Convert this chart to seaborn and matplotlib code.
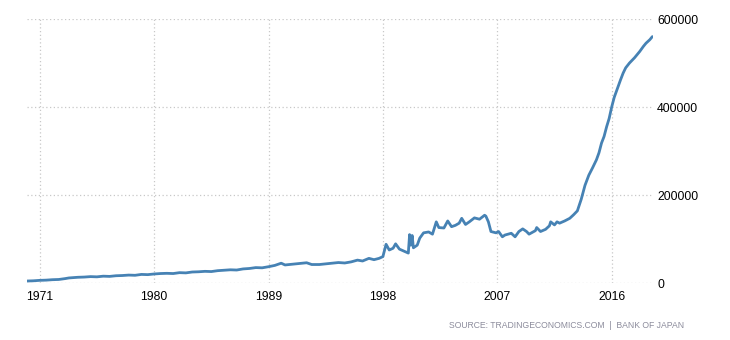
import matplotlib
matplotlib.use("Agg")
import matplotlib.pyplot as plt
import seaborn as sns
import pandas as pd

years = [1970.0, 1970.5, 1971.0, 1971.5, 1972.0, 1972.5, 1973.0, 1973.3, 1973.5, 1974.0,
         1974.5, 1975.0, 1975.5, 1976.0, 1976.5, 1977.0, 1977.5, 1978.0, 1978.5, 1979.0,
         1979.5, 1980.0, 1980.5, 1981.0, 1981.5, 1982.0, 1982.5, 1983.0, 1983.5, 1984.0,
         1984.5, 1985.0, 1985.5, 1986.0, 1986.5, 1987.0, 1987.5, 1988.0, 1988.5,
         1989.0, 1989.5, 1990.0, 1990.3, 1991.0, 1991.4, 1992.0, 1992.4, 1993.0, 1993.5,
         1994.0, 1994.5, 1995.0, 1995.5, 1996.0, 1996.4, 1996.9, 1997.3, 1997.7, 1998.0,
         1998.1, 1998.25, 1998.5, 1998.8, 1999.0, 1999.3, 1999.7, 2000.0, 2000.1, 2000.2,
         2000.3, 2000.4, 2000.7, 2000.9, 2001.2, 2001.6, 2001.9, 2002.2, 2002.4, 2002.8,
         2003.1, 2003.4, 2003.7, 2004.0, 2004.2, 2004.5, 2004.8, 2005.2, 2005.6, 2006.0,
         2006.1, 2006.3, 2006.5, 2006.9, 2007.1, 2007.4, 2007.6, 2008.1, 2008.4, 2008.7,
         2009.0, 2009.3, 2009.5, 2010.0, 2010.1, 2010.4, 2010.8, 2011.1, 2011.2, 2011.5,
         2011.7, 2011.9, 2012.3, 2012.7, 2013.0, 2013.3, 2013.6, 2013.9, 2014.2, 2014.5,
         2014.8, 2015.0, 2015.2, 2015.4, 2015.6, 2015.8, 2016.0, 2016.2, 2016.5, 2016.7,
         2016.9, 2017.1, 2017.4, 2017.8, 2018.2, 2018.5, 2018.7, 2019.0, 2019.2]
values = [4500, 5000, 6000, 6500, 7500, 8000, 10000, 11500, 12000, 13000,
          13500, 14500, 14000, 15500, 15000, 16500, 17000, 18000, 17500, 19500,
          19000, 20500, 21500, 22000, 21500, 23500, 23000, 25000, 25500, 26500,
          26000, 28000, 29000, 30000, 29500, 32000, 33000, 35000, 34500,
          37000, 40000, 45000, 41000, 43000, 44000, 46000, 42000, 42000, 43500,
          45000, 46500, 45500, 48000, 52000, 50000, 56000, 53000, 56000, 60000,
          71000, 88000, 75000, 79000, 89000, 77000, 72000, 68000, 110000, 86000,
          108000, 80000, 86000, 102000, 114000, 116000, 111000, 139000, 126000, 125000,
          141000, 128000, 131000, 136000, 147000, 133000, 139000, 148000, 145000, 154000,
          152000, 139000, 117000, 114000, 117000, 105000, 109000, 113000, 105000, 117000,
          123000, 117000, 111000, 119000, 126000, 117000, 122000, 130000, 139000, 132000,
          139000, 136000, 141000, 147000, 155000, 164000, 190000, 222000, 245000, 262000,
          280000, 296000, 318000, 333000, 355000, 374000, 400000, 422000, 446000, 462000,
          477000, 489000, 500000, 512000, 526000, 538000, 545000, 553000, 560000]
x_ticks = [1971, 1980, 1989, 1998, 2007, 2016]
y_ticks = [0, 200000, 400000, 600000]
source_text = "SOURCE: TRADINGECONOMICS.COM  |  BANK OF JAPAN"

sns.set_style("white")
plt.rcParams['font.family'] = ['Liberation Sans', 'DejaVu Sans']

df = pd.DataFrame({"year": years, "value": values})

fig = plt.figure(figsize=(7.3, 3.4), dpi=100)
ax = fig.add_axes([27/730, (340-283)/340, (653-27)/730, (283-19)/340])
sns.lineplot(data=df, x="year", y="value", ax=ax, color="#4682b4", linewidth=2.0)

ax.set_xlim(1970.0, 2019.25)
ax.set_ylim(0, 600000)
ax.set_xticks(x_ticks)
ax.set_xticklabels([str(t) for t in x_ticks])
ax.set_yticks(y_ticks)
ax.set_yticklabels([str(t) for t in y_ticks])
ax.yaxis.tick_right()
ax.set_xlabel("")
ax.set_ylabel("")
for s in ax.spines.values():
    s.set_visible(False)
ax.grid(True, color="#c8c8c8", linestyle=(0, (1, 2)), linewidth=0.9)
ax.set_axisbelow(True)
ax.tick_params(axis="x", length=4, color="#c8c8c8", pad=2, labelsize=8.8, labelcolor="#000000")
ax.tick_params(axis="y", length=0, pad=3, labelsize=8.8, labelcolor="#000000")

fig.text(684/730, 1 - 325/340, source_text, ha="right", va="center", fontsize=6.2, color="#8c8c9c")

fig.savefig("out.png", dpi=100)
